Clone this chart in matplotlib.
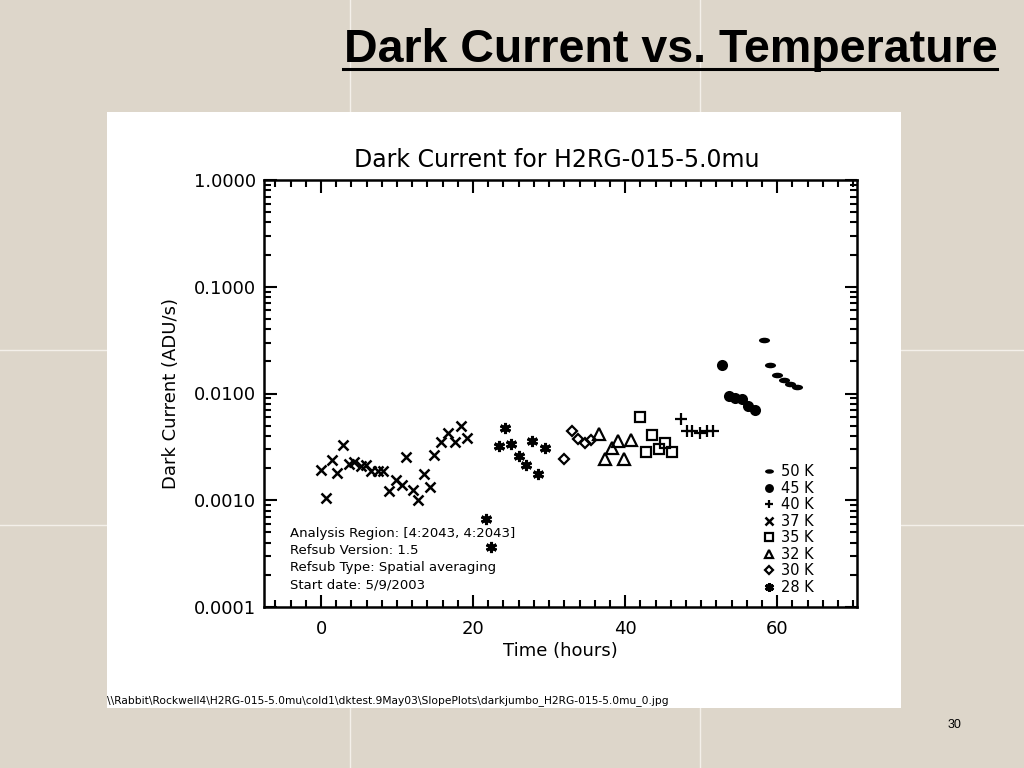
import matplotlib
matplotlib.use("Agg")
import matplotlib.pyplot as plt
from matplotlib.patches import Rectangle
from matplotlib.path import Path
from matplotlib.ticker import MultipleLocator, LogLocator, FixedLocator, NullFormatter
import matplotlib.transforms as mtransforms

# --- data (time in hours, dark current in ADU/s) ---
t_50k = [58.3, 59.1, 60.0, 60.9, 61.7, 62.6]
dc_50k = [3.15e-2, 1.86e-2, 1.49e-2, 1.34e-2, 1.24e-2, 1.16e-2]

t_45k = [52.8, 53.7, 54.5, 55.4, 56.2, 57.1]
dc_45k = [1.84e-2, 9.5e-3, 9.1e-3, 8.9e-3, 7.6e-3, 7.05e-3]

t_40k = [47.4, 48.1, 48.8, 49.8, 50.8, 51.6]
dc_40k = [5.8e-3, 4.42e-3, 4.42e-3, 4.22e-3, 4.42e-3, 4.47e-3]

t_37k = [0.0, 0.7, 1.4, 2.1, 2.9, 3.7, 4.4, 5.2, 5.9, 6.6, 7.5, 8.2, 8.9,
         9.8, 10.6, 11.2, 12.1, 12.8, 13.5, 14.3, 14.9, 15.8, 16.7, 17.6,
         18.4, 19.2]
dc_37k = [1.9e-3, 1.04e-3, 2.4e-3, 1.8e-3, 3.3e-3, 2.2e-3, 2.3e-3, 2.1e-3,
          2.15e-3, 1.86e-3, 1.86e-3, 1.89e-3, 1.22e-3, 1.55e-3, 1.39e-3,
          2.53e-3, 1.26e-3, 1.0e-3, 1.76e-3, 1.34e-3, 2.64e-3, 3.54e-3,
          4.25e-3, 3.54e-3, 4.99e-3, 3.87e-3]

t_35k = [41.9, 42.7, 43.5, 44.4, 45.3, 46.2]
dc_35k = [6.0e-3, 2.85e-3, 4.07e-3, 3.04e-3, 3.46e-3, 2.85e-3]

t_32k = [36.6, 37.4, 38.3, 39.1, 39.9, 40.8]
dc_32k = [4.16e-3, 2.44e-3, 3.1e-3, 3.6e-3, 2.44e-3, 3.67e-3]

t_30k = [32.0, 33.0, 33.8, 34.7, 35.5]
dc_30k = [2.44e-3, 4.42e-3, 3.72e-3, 3.46e-3, 3.65e-3]

t_28k = [21.7, 22.4, 23.4, 24.2, 25.0, 26.1, 27.0, 27.7, 28.6, 29.5]
dc_28k = [6.7e-4, 3.65e-4, 3.2e-3, 4.8e-3, 3.4e-3, 2.58e-3, 2.12e-3,
          3.6e-3, 1.78e-3, 3.06e-3]

y_ticks = [1e-4, 1e-3, 1e-2, 1e-1, 1.0]
x_ticks = [0, 20, 40, 60]

notes = ["Analysis Region: [4:2043, 4:2043]",
         "Refsub Version: 1.5",
         "Refsub Type: Spatial averaging",
         "Start date: 5/9/2003"]

footer = (r"\\Rabbit\Rockwell4\H2RG-015-5.0mu\cold1\dktest.9May03"
          r"\SlopePlots\darkjumbo_H2RG-015-5.0mu_0.jpg")

# flattened ellipse used for the 50 K points
dash = Path.unit_circle().transformed(mtransforms.Affine2D().scale(1.0, 0.5))
star = (6, 2, 0)

series = [
    ("50 K", t_50k, dc_50k, dict(marker=dash, ms=8, mfc="black", mew=0)),
    ("45 K", t_45k, dc_45k, dict(marker="o", ms=8, mfc="black", mew=0)),
    ("40 K", t_40k, dc_40k, dict(marker="+", ms=8, mew=1.6)),
    ("37 K", t_37k, dc_37k, dict(marker="x", ms=7, mew=1.8)),
    ("35 K", t_35k, dc_35k, dict(marker="s", ms=7.5, mfc="none", mew=1.6)),
    ("32 K", t_32k, dc_32k, dict(marker="^", ms=8, mfc="none", mew=1.6)),
    ("30 K", t_30k, dc_30k, dict(marker="D", ms=5.5, mfc="none", mew=1.6)),
    ("28 K", t_28k, dc_28k, dict(marker=star, ms=8, mew=2.2)),
]

bg = "#ddd6ca"
fig = plt.figure(figsize=(10.24, 7.68), dpi=100, facecolor=bg)

# faint tile seams of the slide background
for yy in [350, 525]:
    fig.add_artist(plt.Line2D([0, 1], [1 - yy / 768] * 2, color="#f4f0ea",
                              lw=1, zorder=-3))
for xx in [350, 700]:
    fig.add_artist(plt.Line2D([xx / 1024] * 2, [0, 1], color="#f4f0ea",
                              lw=1, zorder=-3))

# white image panel
fig.add_artist(Rectangle((107 / 1024, 1 - 708 / 768), 794 / 1024, 596 / 768,
                         transform=fig.transFigure, facecolor="white",
                         edgecolor="none", zorder=-2))

# slide title, underlined
fig.text(0.974, 1 - 62 / 768, "Dark Current vs. Temperature",
         ha="right", va="baseline", fontsize=33.5, fontweight="bold",
         family="Liberation Sans")
fig.add_artist(plt.Line2D([343 / 1024, 997 / 1024], [1 - 69 / 768] * 2,
                          color="black", lw=2.2))
fig.text(955 / 1024, 1 - 725 / 768, "30", ha="center", va="center",
         fontsize=9, family="Liberation Sans")

ax = fig.add_axes([264 / 1024, 1 - 607 / 768, 593 / 1024, 427 / 768])
ax.set_zorder(1)
for label, t, dc, kw in series:
    ax.plot(t, dc, ls="none", color="black", mec="black", label=label, **kw)

ax.set_yscale("log")
ax.set_ylim(1e-4, 1.0)
ax.set_xlim(-7.5, 70.5)
ax.xaxis.set_major_locator(FixedLocator(x_ticks))
ax.xaxis.set_minor_locator(MultipleLocator(2))
ax.yaxis.set_major_locator(FixedLocator(y_ticks))
ax.yaxis.set_minor_locator(LogLocator(base=10, subs=range(2, 10)))
ax.yaxis.set_minor_formatter(NullFormatter())
ax.set_yticklabels([f"{v:.4f}" for v in y_ticks])
ax.tick_params(which="both", direction="in", top=True, right=True,
               width=1.5, labelsize=13, pad=6)
ax.tick_params(axis="x", which="major", pad=9)
ax.tick_params(which="major", length=9)
ax.tick_params(which="minor", length=5)
for s in ax.spines.values():
    s.set_linewidth(1.8)

ax.set_xlabel("Time (hours)", fontsize=13, labelpad=3)
ax.set_ylabel("Dark Current (ADU/s)", fontsize=13, labelpad=10)
fig.text(557 / 1024, 1 - 160 / 768, "Dark Current for H2RG-015-5.0mu",
         ha="center", va="center", fontsize=17)

ax.text(0.044, 0.037, "\n".join(notes), transform=ax.transAxes,
        ha="left", va="bottom", fontsize=9.5, linespacing=1.4)

ax.legend(loc="lower right", bbox_to_anchor=(0.945, 0.005), frameon=False,
          fontsize=10.5, labelspacing=0.1, handlelength=0.7,
          handletextpad=0.5, borderpad=0.2, numpoints=1, markerscale=0.8)

fig.text(107 / 1024, 1 - 701 / 768, footer, ha="left", va="center",
         fontsize=7.7)

fig.savefig("out.png", dpi=100, facecolor=bg)
